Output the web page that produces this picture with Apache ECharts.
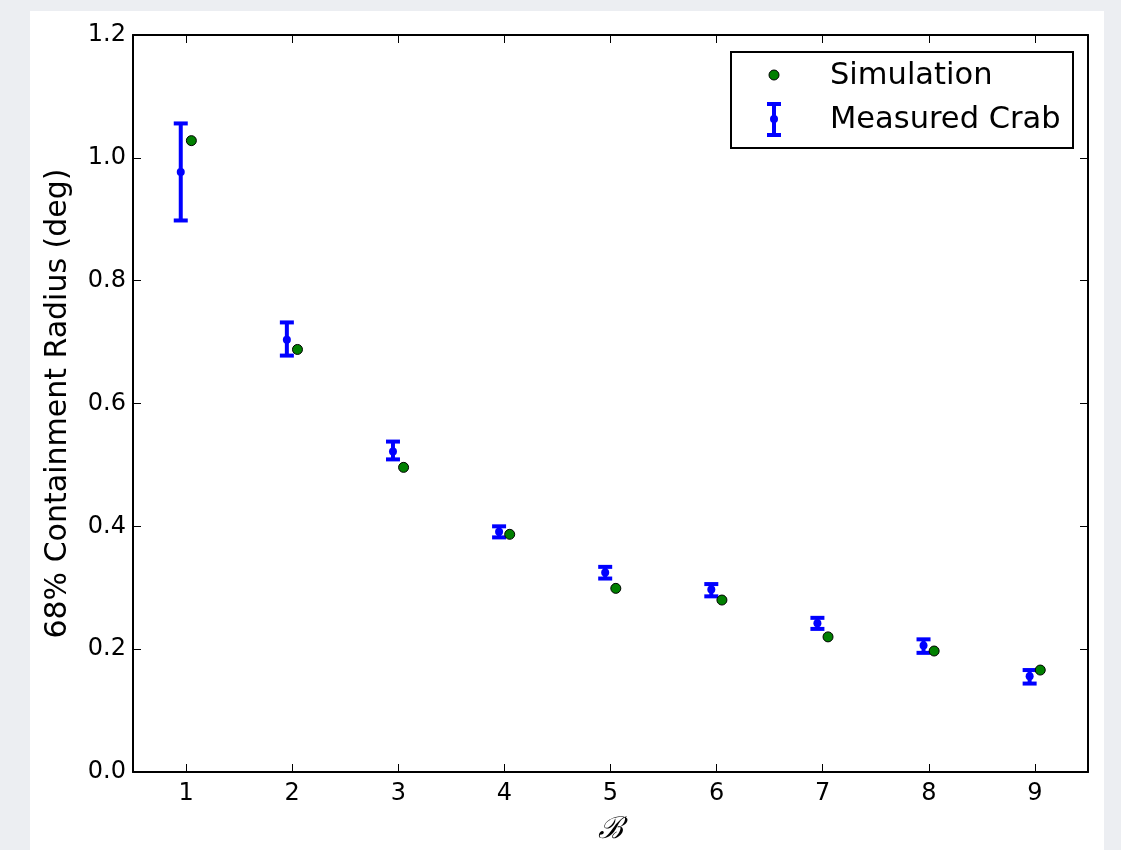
<!DOCTYPE html>
<html>
<head>
<meta charset="utf-8">
<script src="https://cdn.jsdelivr.net/npm/echarts@6/dist/echarts.min.js"></script>
<style>
html,body{margin:0;padding:0;background:#eceef2;}
#chart{width:1121px;height:850px;}
</style>
</head>
<body>
<div id="chart"></div>
<script>
// Data
const categories = [1, 2, 3, 4, 5, 6, 7, 8, 9];
const measuredValue = [0.977, 0.704, 0.522, 0.391, 0.325, 0.297, 0.242, 0.206, 0.156];
const measuredLow   = [0.898, 0.678, 0.509, 0.382, 0.315, 0.286, 0.233, 0.194, 0.144];
const measuredHigh  = [1.056, 0.732, 0.538, 0.400, 0.334, 0.306, 0.251, 0.216, 0.166];
const simulationValue = [1.028, 0.688, 0.496, 0.387, 0.299, 0.280, 0.220, 0.197, 0.166];
const yTicks = [0, 0.2, 0.4, 0.6, 0.8, 1.0, 1.2];

const OFFSET = 0.05;
const FONT = 'DejaVu Sans';

const chart = echarts.init(document.getElementById('chart'), null, {renderer: 'canvas'});

const errData = categories.map((b, i) => [b - OFFSET, measuredLow[i], measuredHigh[i], measuredValue[i]]);
const simData = categories.map((b, i) => [b + OFFSET, simulationValue[i]]);

function xAxisCfg(pos) {
  return {
    type: 'value', position: pos, min: 0.5, max: 9.5,
    splitLine: {show: false},
    axisLine: {show: true, onZero: false, lineStyle: {color: '#000', width: 2}},
    axisTick: {show: true, inside: true, length: 8, customValues: categories, lineStyle: {color: '#000', width: 1}},
    axisLabel: {show: pos === 'bottom', customValues: categories, color: '#000', fontFamily: FONT, fontSize: 24, margin: 10},
    name: pos === 'bottom' ? '\u212C' : '',
    nameLocation: 'middle', nameGap: 43,
    nameTextStyle: {color: '#000', fontFamily: 'DejaVu Serif', fontStyle: 'italic', fontSize: 30}
  };
}
function yAxisCfg(pos) {
  return {
    type: 'value', position: pos, min: 0, max: 1.2, interval: 0.2,
    splitLine: {show: false},
    axisLine: {show: true, onZero: false, lineStyle: {color: '#000', width: 2}},
    axisTick: {show: true, inside: true, length: 8, lineStyle: {color: '#000', width: 1}},
    axisLabel: {show: pos === 'left', color: '#000', fontFamily: FONT, fontSize: 24, margin: 7,
      formatter: v => v.toFixed(1)},
    name: pos === 'left' ? '68% Containment Radius (deg)' : '',
    nameLocation: 'middle', nameRotate: 90, nameGap: 60,
    nameTextStyle: {color: '#000', fontFamily: FONT, fontSize: 30}
  };
}

const option = {
  backgroundColor: '#eceef2',
  animation: false,
  grid: {left: 133, right: 33, top: 35, bottom: 77, containLabel: false},
  xAxis: [xAxisCfg('bottom'), xAxisCfg('top')],
  yAxis: [yAxisCfg('left'), yAxisCfg('right')],
  graphic: [
    {type: 'rect', z: -100, silent: true, shape: {x: 30, y: 11, width: 1074, height: 845}, style: {fill: '#ffffff'}},
    {type: 'rect', z: 100, shape: {x: 731, y: 52, width: 342, height: 96}, style: {fill: '#fff', stroke: '#000', lineWidth: 2}},
    {type: 'circle', z: 101, shape: {cx: 774, cy: 75, r: 5}, style: {fill: '#008000', stroke: '#000', lineWidth: 1}},
    {type: 'line', z: 101, shape: {x1: 774, y1: 104, x2: 774, y2: 135}, style: {stroke: '#0000ff', lineWidth: 4}},
    {type: 'line', z: 101, shape: {x1: 767, y1: 104, x2: 781, y2: 104}, style: {stroke: '#0000ff', lineWidth: 4}},
    {type: 'line', z: 101, shape: {x1: 767, y1: 135, x2: 781, y2: 135}, style: {stroke: '#0000ff', lineWidth: 4}},
    {type: 'circle', z: 101, shape: {cx: 774, cy: 119, r: 4}, style: {fill: '#0000ff'}},
    {type: 'text', z: 101, x: 830, y: 76, style: {text: 'Simulation', fill: '#000', font: '30.5px "DejaVu Sans"', verticalAlign: 'middle', align: 'left'}},
    {type: 'text', z: 101, x: 830, y: 120, style: {text: 'Measured Crab', fill: '#000', font: '30.5px "DejaVu Sans"', verticalAlign: 'middle', align: 'left'}}
  ],
  series: [
    {
      name: 'Measured Crab', type: 'custom', xAxisIndex: 0, yAxisIndex: 0, z: 3,
      data: errData,
      renderItem: function (params, api) {
        const x = api.value(0);
        const lo = api.coord([x, api.value(1)]);
        const hi = api.coord([x, api.value(2)]);
        const c = api.coord([x, api.value(3)]);
        const cap = 7;
        const st = {stroke: '#0000ff', lineWidth: 4};
        return {
          type: 'group',
          children: [
            {type: 'line', shape: {x1: lo[0], y1: lo[1], x2: hi[0], y2: hi[1]}, style: st},
            {type: 'line', shape: {x1: lo[0] - cap, y1: lo[1], x2: lo[0] + cap, y2: lo[1]}, style: st},
            {type: 'line', shape: {x1: hi[0] - cap, y1: hi[1], x2: hi[0] + cap, y2: hi[1]}, style: st},
            {type: 'circle', shape: {cx: c[0], cy: c[1], r: 4}, style: {fill: '#0000ff'}}
          ]
        };
      }
    },
    {
      name: 'Simulation', type: 'scatter', xAxisIndex: 0, yAxisIndex: 0, z: 4,
      data: simData, symbol: 'circle', symbolSize: 10,
      itemStyle: {color: '#008000', borderColor: '#000', borderWidth: 1, opacity: 1}
    }
  ]
};
chart.setOption(option);
</script>
</body>
</html>
